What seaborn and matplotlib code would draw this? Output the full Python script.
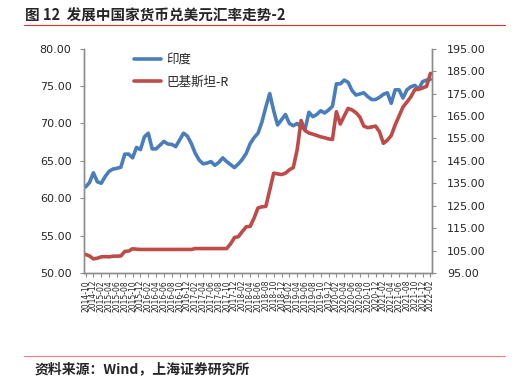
import numpy as np
import pandas as pd
import matplotlib
matplotlib.use('Agg')
import matplotlib.pyplot as plt
import seaborn as sns

# 月份（2014-10 至 2022-02）
months = pd.date_range('2014-10-01', '2022-02-01', freq='MS').strftime('%Y-%m').tolist()

# 印度 卢比/美元（左轴）
india = [61.5, 62.1, 63.4, 62.2, 62.0, 62.9, 63.6, 63.9, 64.0, 64.15,
         65.9, 65.9, 65.4, 66.8, 66.5, 68.2, 68.7, 66.6, 66.6, 67.1,
         67.6, 67.25, 67.2, 66.9, 67.8, 68.7, 68.3, 67.3, 66.0, 65.1,
         64.6, 64.7, 64.9, 64.4, 64.8, 65.4, 64.9, 64.5, 64.1, 64.6,
         65.2, 66.0, 67.3, 68.1, 68.7, 70.2, 72.2, 74.0, 71.7, 69.8,
         70.5, 71.2, 70.0, 69.7, 70.0, 69.5, 69.2, 71.5, 70.9, 71.2,
         71.7, 71.4, 71.8, 72.3, 75.3, 75.3, 75.8, 75.5, 74.4, 73.8,
         73.95, 74.1, 73.6, 73.2, 73.2, 73.5, 73.9, 74.1, 72.7, 74.5,
         74.5, 73.4, 74.5, 74.9, 75.1, 74.6, 75.6, 75.8, 75.9]

# 巴基斯坦 卢比/美元（右轴）
pakistan = [103.3, 102.6, 101.3, 101.6, 102.2, 102.3, 102.2, 102.5, 102.5, 102.6,
            104.6, 104.8, 105.8, 105.6, 105.5, 105.5, 105.5, 105.5, 105.5, 105.5,
            105.5, 105.5, 105.5, 105.5, 105.5, 105.5, 105.5, 105.5, 105.9, 105.9,
            105.9, 105.9, 105.9, 105.9, 105.9, 105.9, 105.9, 108.0, 110.8, 111.2,
            113.5, 115.6, 115.8, 119.5, 124.0, 124.5, 124.7, 132.0, 139.5, 139.2,
            138.9, 139.5, 141.0, 142.0, 150.0, 163.0, 158.5, 157.4, 156.9, 156.3,
            155.7, 155.3, 154.8, 154.55, 166.9, 161.4, 165.0, 168.4, 167.7, 166.5,
            164.5, 160.5, 159.8, 160.1, 160.5, 158.0, 152.8, 154.2, 156.3, 161.0,
            165.0, 169.0, 171.2, 173.5, 176.7, 176.9, 177.5, 178.2, 184.0]

df = pd.DataFrame({'idx': np.arange(len(months)), 'month': months,
                   'india': india, 'pakistan': pakistan})

sns.set_style('white')
plt.rcParams['font.family'] = ['DejaVu Sans', 'Noto Sans CJK SC']

fig = plt.figure(figsize=(5.26, 3.83), dpi=100)
ax = fig.add_axes([84 / 526, 1 - 273 / 383, 348 / 526, 224.3 / 383])
ax2 = ax.twinx()

blue = '#4A7EBB'
red = '#BE4B48'
sns.lineplot(data=df, x='idx', y='india', ax=ax, color=blue, lw=2.6, label='印度', legend=False)
sns.lineplot(data=df, x='idx', y='pakistan', ax=ax2, color=red, lw=2.6, label='巴基斯坦-R', legend=False)

ax.set_xlim(-0.4, 88.4)
ax.set_ylim(50, 80)
ax2.set_ylim(95, 195)
ax.set_yticks(np.arange(50, 80.1, 5))
ax2.set_yticks(np.arange(95, 195.1, 10))
ax.set_yticklabels([f'{v:.2f}' for v in np.arange(50, 80.1, 5)])
ax2.set_yticklabels([f'{v:.2f}' for v in np.arange(95, 195.1, 10)])
ax.set_xticks(df['idx'][::2])
ax.set_xticklabels(df['month'][::2], rotation=90)
ax.set_xlabel('')
ax.set_ylabel('')
ax2.set_ylabel('')

grey = '#8C8C8C'
for a in (ax, ax2):
    for s in a.spines.values():
        s.set_color(grey)
        s.set_linewidth(1.0)
    a.spines['top'].set_visible(False)
ax.tick_params(axis='y', direction='out', length=3, color=grey, labelsize=8, pad=6, left=True)
ax2.tick_params(axis='y', direction='out', length=3, color=grey, labelsize=8, pad=8, right=True)
ax.tick_params(axis='x', direction='out', length=3, color=grey, labelsize=5.5, pad=2, bottom=True)

h1, l1 = ax.get_legend_handles_labels()
h2, l2 = ax2.get_legend_handles_labels()
ax.legend(h1 + h2, l1 + l2, loc='upper left', bbox_to_anchor=(0.118, 1.02),
          frameon=False, prop={'family': 'Noto Sans CJK SC', 'size': 9},
          handlelength=2.2, handletextpad=0.4, labelspacing=0.75, borderpad=0.2)

# 标题与来源
fig.text(25 / 526, 1 - 16 / 383, '图 12  发展中国家货币兑美元汇率走势-2', family=['Noto Sans CJK SC'],
         fontsize=10.5, fontweight='bold', va='center', ha='left')
fig.add_artist(plt.Line2D([24 / 526, 505 / 526], [1 - 25 / 383, 1 - 25 / 383], color='#E8302F', lw=0.8))
fig.add_artist(plt.Line2D([24 / 526, 505 / 526], [1 - 355.5 / 383, 1 - 355.5 / 383], color='#F08080', lw=0.8))
fig.text(35 / 526, 1 - 369 / 383, '资料来源：Wind，上海证券研究所', family=['Noto Sans CJK SC'],
         fontsize=10, fontweight='bold', va='center', ha='left')

fig.savefig('out.png', dpi=100)
